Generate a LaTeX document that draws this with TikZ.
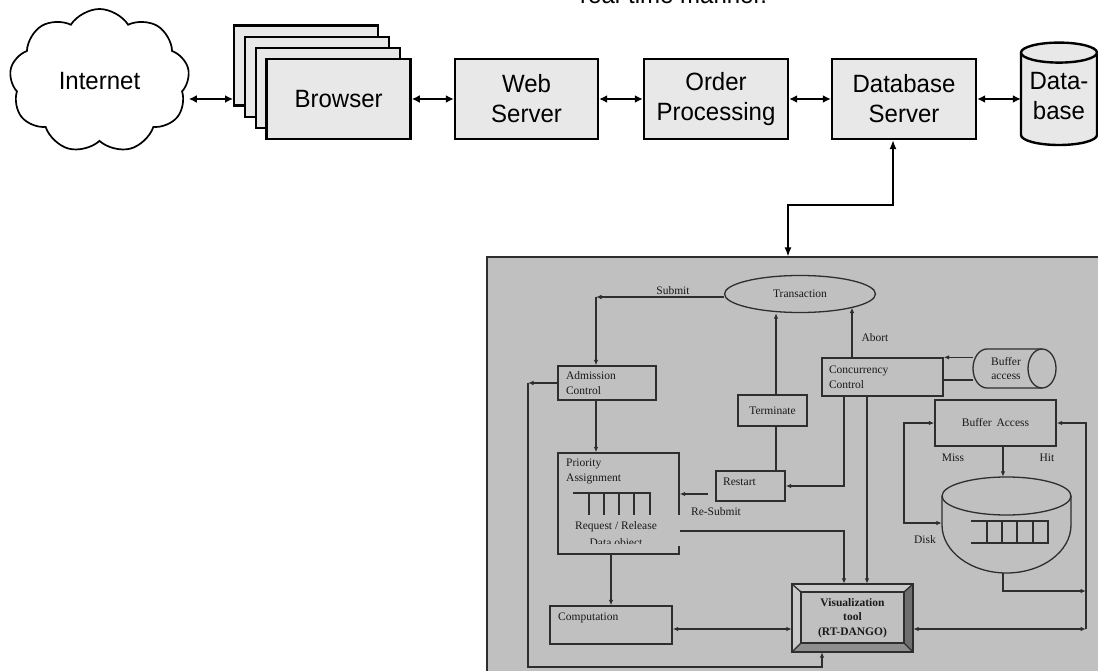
\documentclass[tikz,border=0pt]{standalone}
\usepackage{fontspec}
\setmainfont{Liberation Serif}
\newfontfamily\topfont[FakeStretch=0.96]{Liberation Sans}
\usetikzlibrary{shapes.symbols,shapes.geometric,arrows.meta}

\definecolor{boxfill}{HTML}{E8E8E8}
\definecolor{panelbg}{HTML}{C0C0C0}
\definecolor{panelline}{HTML}{2E2E2E}
\definecolor{ptextcol}{HTML}{1A1A1A}
\definecolor{bevellight}{HTML}{CACACA}
\definecolor{beveldark}{HTML}{6E6E6E}
\definecolor{bevelmid}{HTML}{8E8E8E}

\newcommand{\toptext}{\topfont\fontsize{25}{30}\selectfont}
\newcommand{\ptext}{\fontsize{11.5}{14.5}\selectfont}

\begin{document}
\begin{tikzpicture}[x=1pt,y=-1pt,
  topbox/.style={draw=black, line width=2.4pt, fill=boxfill, minimum width=144pt,
    minimum height=80pt, inner sep=0pt, align=center, font=\toptext},
  toparrow/.style={line width=2.3pt, {Latex[length=8pt,width=8pt]}-{Latex[length=8pt,width=8pt]}},
  dblink/.style={line width=1.3pt, {Latex[length=9pt,width=7pt]}-{Latex[length=9pt,width=7pt]}},
  pbox/.style={draw=panelline, line width=1.3pt, inner sep=0pt, font=\ptext, text=ptextcol},
  pline/.style={draw=panelline, line width=1.3pt},
  parr/.style={pline, -{Latex[length=5.5pt,width=4.5pt]}},
  pdbl/.style={pline, {Latex[length=5.5pt,width=4.5pt]}-{Latex[length=5.5pt,width=4.5pt]}},
  lbl/.style={inner sep=0pt, font=\ptext, text=ptextcol, text height=8pt, text depth=2.5pt},
]
\useasboundingbox (0,0) rectangle (1098,671);

% heading line running off the top edge
\node[anchor=base west, inner sep=0pt, font=\toptext] (caption) at (580,3.5) {real-time manner.};

% ---------------- web shop pipeline ----------------
\node[cloud, draw=black, line width=1.7pt, fill=white, cloud puffs=9, cloud puff arc=115,
      aspect=1.27, minimum width=180pt, minimum height=144pt, inner sep=0pt, font=\toptext]
      (net) at (99.5,81) {Internet};

\node[topbox] (b1) at (306.2,65.7) {};
\node[topbox] (b2) at (317,76.8) {};
\node[topbox] (b3) at (327.8,87.9) {};
\node[topbox] (br) at (338.6,99) {Browser};

\node[topbox, minimum width=143pt] (web) at (526.5,99) {Web\\Server};
\node[topbox] (ord) at (716,99) {Order\\Processing};
\node[topbox] (dbs) at (904,99) {Database\\Server};

% database cylinder
\fill[boxfill] (1021,52.6) -- (1021,135) arc (180:0:38 and 10) -- (1097,52.6) arc (0:-180:38 and 10) -- cycle;
\draw[line width=2.4pt] (1021,52.6) -- (1021,135) arc (180:0:38 and 10) -- (1097,52.6);
\draw[line width=2.4pt] (1059,52.6) ellipse [x radius=38, y radius=10];
\node[minimum width=76pt, minimum height=102pt, inner sep=0pt, align=center, font=\toptext]
      (db) at (1059,96) {Data-\\base};

\draw[toparrow] (net.east |- br.west) -- (b1.west |- br.west);
\draw[toparrow] (br.east) -- (web.west);
\draw[toparrow] (web.east) -- (ord.west);
\draw[toparrow] (ord.east) -- (dbs.west);
\draw[toparrow] (dbs.east) -- (dbs.east -| db.west);

% ---------------- RT-DANGO panel ----------------
\node[draw=panelline, line width=1.3pt, fill=panelbg, minimum width=623pt, minimum height=433pt,
      inner sep=0pt] (panel) at (798.5,473.5) {};

\coordinate (jog) at (788,205);
\coordinate (dq) at (893,0);
\draw[dblink] (panel.north -| jog) -- (jog) -| (dbs.south -| dq);

% boxes
\node[pbox, ellipse, minimum width=151pt, minimum height=37pt] (trans) at (800,294) {Transaction};
\node[pbox, minimum width=98pt, minimum height=34pt, text width=82pt, align=left] (adm) at (607,383) {Admission\\Control};
\node[pbox, minimum width=121pt, minimum height=101pt] (prio) at (618.5,503.5) {};
\node[pbox, minimum width=69pt, minimum height=31pt] (term) at (772.5,410.5) {Terminate};
\node[pbox, minimum width=69pt, minimum height=30pt] (rest) at (750.5,486) {};
\node[pbox, minimum width=121pt, minimum height=38pt, text width=107pt, align=left] (conc) at (882.5,377) {Concurrency\\Control};
\node[pbox, minimum width=121pt, minimum height=46pt] (bufacc) at (995.5,423) {Buffer\, Access};
\node[pbox, minimum width=122pt, minimum height=38pt] (comp) at (611,625) {};
\node[minimum width=66pt, minimum height=39pt, inner sep=0pt, align=center, font=\ptext, text=ptextcol] (bufcyl) at (1006,368.5) {Buffer\\access};
\node[minimum width=129pt, minimum height=96pt, inner sep=0pt] (disk) at (1006.5,525) {};

% the priority box's right side is broken where the lines leave it
\fill[panelbg] ([xshift=-2pt,yshift=-63pt]prio.north east) rectangle ([xshift=2pt,yshift=9pt]prio.south east);
\node[lbl, anchor=west] at (566,464) {Priority};
\node[lbl, anchor=west] at (566,479) {Assignment};
\draw[pline] (573,493) -- (651,493);
\foreach \qx in {589,604,619,634,650} \draw[pline] (\qx,493) -- (\qx,515);
\node[lbl] at (616,527) {Request / Release};
\begin{scope}
  \clip (560,534) rectangle (678,543.5);
  \node[inner sep=0pt, font=\ptext, text=ptextcol, anchor=base] at (616,546.5) {Data object};
\end{scope}

\node[lbl, anchor=west] at (723,483) {Restart};
\node[lbl, anchor=west] at (558,618) {Computation};

% horizontal buffer cylinder
\draw[pline] (1042,349) -- (987,349) arc (270:90:14 and 19.5) -- (1042,388);
\draw[pline] (1042,368.5) ellipse [x radius=14, y radius=19.5];

% disk with its queue
\draw[pline] (942,496) -- (942,525) arc (180:0:64.5 and 48) -- (1071,496);
\draw[pline] (1006.5,496) ellipse [x radius=64.5, y radius=19];
\draw[pline] (971,521) -- (1048,521) -- (1048,543) -- (971,543);
\foreach \qx in {987,1002,1017,1033} \draw[pline] (\qx,521) -- (\qx,543);

% bevelled visualization tool box
\fill[bevellight] (792,584) -- (913,584) -- (904,592) -- (801,592) -- cycle;
\fill[bevellight] (792,584) -- (801,592) -- (801,643) -- (792,652) -- cycle;
\fill[beveldark] (913,584) -- (913,652) -- (904,643) -- (904,592) -- cycle;
\fill[bevelmid] (792,652) -- (913,652) -- (904,643) -- (801,643) -- cycle;
\draw[pline] (792,584) rectangle (913,652);
\draw[pline] (801,592) rectangle (904,643);
\draw[pline] (792,584) -- (801,592) (913,584) -- (904,592) (913,652) -- (904,643) (792,652) -- (801,643);
\node[minimum width=121pt, minimum height=68pt, inner sep=0pt, align=center,
      font=\ptext\bfseries, text=ptextcol] (vis) at (852.5,618) {Visualization\\tool\\(RT-DANGO)};

% connectors
\coordinate (sc) at (596,297);
\draw[parr] (trans.west |- sc) -- (sc);
\draw[parr] (sc) -- (sc |- adm.north);
\node[lbl] at (673,292) {Submit};

\draw[parr] (sc |- adm.south) -- (sc |- prio.north);

\coordinate (fb) at (528,383);
\coordinate (fbl) at (528,667);
\draw[parr] (adm.west) -- (fb);
\draw[parr] (fb) -- (fbl) -| ([xshift=-30.5pt]vis.south);

\draw[parr] (comp.north |- prio.south) -- (comp.north);
\draw[pdbl] ([yshift=-4pt]comp.east) -- ([yshift=-4pt]comp.east -| vis.west);

\draw[parr] ([xshift=-7pt,yshift=-8pt]rest.west) -- ([yshift=-8pt]rest.west -| prio.east);
\node[lbl] at (716,513) {Re-Submit};

\coordinate (tx) at (776,0);
\draw[pline] (rest.north -| tx) -- (term.south -| tx);
\draw[parr] (term.north -| tx) -- (tx |- trans.south);

\coordinate (abtip) at (852,307.5);
\draw[parr] (conc.north -| abtip) -- (abtip);
\node[lbl] at (875,339) {Abort};

\coordinate (cx1) at (844,0);
\coordinate (cx2) at (867,0);
\draw[parr] (conc.south -| cx1) |- (rest.east);
\draw[parr] (conc.south -| cx2) -- (vis.north -| cx2);
\coordinate (py) at (0,531);
\draw[parr] (prio.east |- py) -| (vis.north -| cx1);

\coordinate (bl) at (0,380);
\draw[parr] (bufcyl.west |- conc.north) -- (conc.north east);
\draw[pline] (bufcyl.west |- bl) -- (conc.east |- bl);

\coordinate (mx) at (904,523);
\draw[pdbl] (bufacc.west) -| (mx) -- (mx -| disk.west);
\node[lbl] at (953,459) {Miss};
\node[lbl] at (1047,459) {Hit};
\node[lbl] at (925,541) {Disk};

\coordinate (dx) at (1003,0);
\draw[parr] (bufacc.south -| dx) -- (disk.north -| dx);
\coordinate (r1) at (1086,591);
\coordinate (r2) at (1086,629);
\draw[parr] (disk.south -| dx) |- (r1);
\draw[pdbl] (vis.east |- r2) -- (r2);
\draw[parr] (r2) |- (bufacc.east);

\end{tikzpicture}
\end{document}
